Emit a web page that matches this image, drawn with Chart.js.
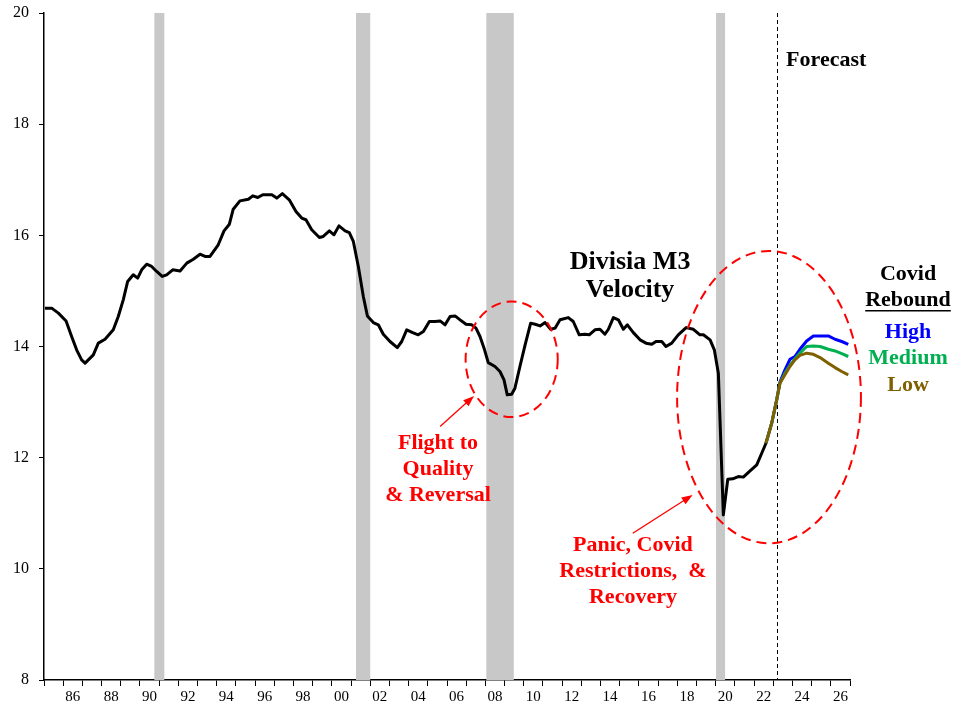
<!DOCTYPE html>
<html lang="en">
<head>
    <meta charset="UTF-8">
    <title>Divisia M3 Velocity</title>
    <script src="https://cdn.jsdelivr.net/npm/chart.js"></script>
    <style>
        body {
            margin: 0;
            background-color: #fff;
        }
        .chart-box {
            width: 955px;
            height: 708px;
            position: relative;
        }
    </style>
</head>
<body>
    <div class="chart-box">
        <canvas id="velocityChart"></canvas>
    </div>

    <script>
        // historical velocity (decimal years / values)
        const histYears = [
            1985.05, 1985.40, 1985.75, 1986.15, 1986.44, 1986.70, 1986.96, 1987.14, 1987.57, 1987.83,
            1988.18, 1988.61, 1988.87, 1989.13, 1989.36, 1989.65, 1989.88, 1990.09, 1990.35, 1990.61,
            1990.87, 1991.16, 1991.39, 1991.71, 1992.09, 1992.44, 1992.78, 1993.13, 1993.39, 1993.65,
            1994.08, 1994.38, 1994.66, 1994.86, 1995.21, 1995.65, 1995.88, 1996.14, 1996.40, 1996.87,
            1997.13, 1997.42, 1997.78, 1998.13, 1998.43, 1998.65, 1998.95, 1999.35, 1999.55, 1999.87,
            2000.11, 2000.37, 2000.69, 2000.91, 2001.12, 2001.38, 2001.64, 2001.85, 2002.16, 2002.42,
            2002.68, 2003.03, 2003.41, 2003.64, 2003.90, 2004.21, 2004.50, 2004.77, 2005.08, 2005.38,
            2005.64, 2005.90, 2006.16, 2006.42, 2006.68, 2006.99, 2007.29, 2007.51, 2007.72, 2007.93,
            2008.15, 2008.50, 2008.76, 2008.97, 2009.14, 2009.37, 2009.54, 2009.80, 2010.07, 2010.36,
            2010.59, 2010.85, 2011.11, 2011.40, 2011.63, 2011.89, 2012.32, 2012.58, 2012.89, 2013.19,
            2013.41, 2013.71, 2013.97, 2014.23, 2014.41, 2014.67, 2014.93, 2015.19, 2015.40, 2015.71,
            2016.06, 2016.37, 2016.67, 2016.89, 2017.19, 2017.41, 2017.71, 2018.05, 2018.46, 2018.84,
            2019.18, 2019.36, 2019.71, 2019.93, 2020.14, 2020.40, 2020.63, 2020.89, 2021.18, 2021.44,
            2021.75, 2022.14, 2022.40, 2022.62
        ];
        const histValues = [
            14.69, 14.69, 14.60, 14.46, 14.18, 13.94, 13.76, 13.70, 13.85, 14.06,
            14.13, 14.30, 14.54, 14.84, 15.17, 15.29, 15.23, 15.38, 15.48, 15.44,
            15.35, 15.26, 15.29, 15.38, 15.36, 15.50, 15.57, 15.66, 15.62, 15.62,
            15.83, 16.08, 16.20, 16.47, 16.62, 16.65, 16.71, 16.68, 16.73, 16.73,
            16.67, 16.75, 16.64, 16.43, 16.31, 16.28, 16.10, 15.96, 15.98, 16.08,
            16.01, 16.17, 16.08, 16.05, 15.89, 15.44, 14.90, 14.55, 14.43, 14.39,
            14.22, 14.09, 13.98, 14.09, 14.30, 14.25, 14.21, 14.27, 14.45, 14.45,
            14.46, 14.39, 14.54, 14.55, 14.48, 14.40, 14.39, 14.33, 14.18, 13.97,
            13.71, 13.64, 13.55, 13.40, 13.13, 13.14, 13.25, 13.64, 14.03, 14.42,
            14.40, 14.37, 14.43, 14.31, 14.33, 14.48, 14.52, 14.45, 14.21, 14.22,
            14.21, 14.30, 14.31, 14.22, 14.31, 14.52, 14.48, 14.31, 14.39, 14.25,
            14.12, 14.06, 14.04, 14.09, 14.09, 14.00, 14.06, 14.21, 14.34, 14.31,
            14.21, 14.21, 14.12, 13.94, 13.52, 10.97, 11.61, 11.62, 11.66, 11.65,
            11.75, 11.87, 12.08, 12.26
        ];

        // forecast scenarios
        const fcYears = [2022.62, 2022.92, 2023.18, 2023.35, 2023.61, 2023.87, 2024.13, 2024.39,
                         2024.74, 2025.09, 2025.44, 2025.87, 2026.22, 2026.57, 2026.91];
        const highValues = [12.26, 12.62, 13.04, 13.36, 13.58, 13.77, 13.82, 13.95,
                            14.10, 14.19, 14.19, 14.19, 14.13, 14.09, 14.04];
        const mediumValues = [12.26, 12.62, 13.04, 13.34, 13.52, 13.66, 13.78, 13.88,
                              14.00, 14.01, 14.00, 13.95, 13.92, 13.87, 13.82];
        const lowValues = [12.26, 12.62, 13.04, 13.34, 13.49, 13.64, 13.76, 13.84,
                           13.88, 13.86, 13.80, 13.70, 13.62, 13.55, 13.49];

        // recessions (start, end in decimal years)
        const recessions = [[1990.75, 1991.27], [2001.26, 2002.0], [2008.05, 2009.48], [2020.02, 2020.49]];
        const forecastStart = 2023.18;

        const xMin = 1985, xMax = 2027;
        const yTicks = [8, 10, 12, 14, 16, 18, 20];

        const toPoints = (xs, ys) => xs.map((x, i) => ({ x: x, y: ys[i] }));
        const serif = '"Liberation Serif", "Times New Roman", serif';

        // shading + forecast line behind, annotations on top
        const decorations = {
            id: 'decorations',
            beforeDatasetsDraw(chart) {
                const { ctx, chartArea, scales: { x } } = chart;
                ctx.save();
                ctx.fillStyle = '#c8c8c8';
                recessions.forEach(([a, b]) => {
                    const x1 = x.getPixelForValue(a), x2 = x.getPixelForValue(b);
                    ctx.fillRect(x1, chartArea.top, x2 - x1, chartArea.bottom - chartArea.top);
                });
                const fx = Math.round(x.getPixelForValue(forecastStart)) + 0.5;
                ctx.strokeStyle = '#000';
                ctx.lineWidth = 1;
                ctx.setLineDash([4, 3]);
                ctx.beginPath();
                ctx.moveTo(fx, chartArea.top);
                ctx.lineTo(fx, chartArea.bottom);
                ctx.stroke();
                ctx.restore();
            },
            afterDatasetsDraw(chart) {
                const { ctx, scales: { x, y } } = chart;
                const px = v => x.getPixelForValue(v);
                const py = v => y.getPixelForValue(v);

                ctx.save();
                // dashed ellipses
                ctx.strokeStyle = '#ff0000';
                ctx.lineWidth = 2;
                ctx.setLineDash([10, 6]);
                [[2009.37, 13.77, 2.4, 1.04], [2022.78, 13.09, 4.79, 2.63]].forEach(([cx, cy, rx, ry]) => {
                    ctx.beginPath();
                    ctx.ellipse(px(cx), py(cy), px(cx + rx) - px(cx), py(cy - ry) - py(cy), 0, 0, Math.PI * 2);
                    ctx.stroke();
                });
                ctx.setLineDash([]);

                // arrows
                const arrow = (x1, y1, x2, y2) => {
                    const ax = px(x1), ay = py(y1), bx = px(x2), by = py(y2);
                    const ang = Math.atan2(by - ay, bx - ax);
                    ctx.lineWidth = 1.3;
                    ctx.beginPath();
                    ctx.moveTo(ax, ay);
                    ctx.lineTo(bx - 8 * Math.cos(ang), by - 8 * Math.sin(ang));
                    ctx.stroke();
                    ctx.beginPath();
                    ctx.moveTo(bx, by);
                    ctx.lineTo(bx - 11 * Math.cos(ang) + 4 * Math.sin(ang), by - 11 * Math.sin(ang) - 4 * Math.cos(ang));
                    ctx.lineTo(bx - 11 * Math.cos(ang) - 4 * Math.sin(ang), by - 11 * Math.sin(ang) + 4 * Math.cos(ang));
                    ctx.closePath();
                    ctx.fill();
                };
                ctx.fillStyle = '#ff0000';
                arrow(2005.64, 12.56, 2007.41, 13.11);
                arrow(2015.68, 10.64, 2018.80, 11.33);

                // text blocks
                const lines = (xv, yv, arr, color, size, gap) => {
                    ctx.fillStyle = color;
                    ctx.font = 'bold ' + size + 'px ' + serif;
                    ctx.textAlign = 'center';
                    ctx.textBaseline = 'middle';
                    arr.forEach((t, i) => ctx.fillText(t, px(xv), py(yv) + i * gap));
                };
                lines(2005.53, 12.26, ['Flight to', 'Quality', '& Reversal'], '#ff0000', 22, 26);
                lines(2015.69, 10.43, ['Panic, Covid', 'Restrictions,  &', 'Recovery'], '#ff0000', 22, 26);
                lines(2015.54, 15.52, ['Divisia M3', 'Velocity'], '#000', 26, 28);

                ctx.font = 'bold 22px ' + serif;
                ctx.textAlign = 'left';
                ctx.fillStyle = '#000';
                ctx.fillText('Forecast', px(2023.67), py(19.15));

                // scenario key
                const kx = px(xMin) + 864;
                const ky = py(20) + 261;
                ctx.textAlign = 'center';
                ctx.textBaseline = 'middle';
                ctx.fillStyle = '#000';
                ctx.fillText('Covid', kx, ky);
                ctx.fillText('Rebound', kx, ky + 26);
                const w = ctx.measureText('Rebound').width;
                ctx.fillRect(kx - w / 2, ky + 26 + 10, w, 1.5);
                ctx.fillStyle = '#0000ff';
                ctx.fillText('High', kx, ky + 58);
                ctx.fillStyle = '#00b050';
                ctx.fillText('Medium', kx, ky + 84);
                ctx.fillStyle = '#7f6000';
                ctx.fillText('Low', kx, ky + 111);
                ctx.restore();
            }
        };

        const lineStyle = {
            borderWidth: 3,
            pointRadius: 0,
            tension: 0,
            borderJoinStyle: 'round',
            fill: false
        };

        const config = {
            type: 'line',
            data: {
                datasets: [
                    Object.assign({ label: 'Divisia M3 Velocity', data: toPoints(histYears, histValues), borderColor: '#000', order: 0 }, lineStyle),
                    Object.assign({ label: 'Low', data: toPoints(fcYears, lowValues), borderColor: '#7f6000', order: 1 }, lineStyle),
                    Object.assign({ label: 'Medium', data: toPoints(fcYears, mediumValues), borderColor: '#00b050', order: 2 }, lineStyle),
                    Object.assign({ label: 'High', data: toPoints(fcYears, highValues), borderColor: '#0000ff', order: 3 }, lineStyle)
                ]
            },
            options: {
                responsive: true,
                maintainAspectRatio: false,
                animation: false,
                layout: { padding: { top: 13, right: 105, bottom: 0, left: 0 } },
                plugins: {
                    legend: { display: false },
                    tooltip: { enabled: false }
                },
                scales: {
                    x: {
                        type: 'linear',
                        min: xMin,
                        max: xMax,
                        afterBuildTicks: (axis) => {
                            const t = [];
                            for (let yr = xMin; yr <= xMax; yr++) t.push({ value: yr });
                            for (let yr = 1986; yr <= 2026; yr += 2) t.push({ value: yr + 0.5 });
                            t.sort((a, b) => a.value - b.value);
                            axis.ticks = t;
                        },
                        afterFit: (s) => { s.height = 28; },
                        border: { color: '#000', width: 1.5 },
                        grid: {
                            drawOnChartArea: false,
                            tickLength: 6,
                            tickColor: (c) => (c.tick && c.tick.value % 1 ? 'rgba(0,0,0,0)' : '#000')
                        },
                        ticks: {
                            autoSkip: false,
                            maxRotation: 0,
                            minRotation: 0,
                            padding: 2,
                            color: '#000',
                            font: { family: serif, size: 15 },
                            callback: (v) => (v % 1 ? String(Math.floor(v) % 100).padStart(2, '0') : '')
                        }
                    },
                    y: {
                        min: 8,
                        max: 20,
                        afterBuildTicks: (axis) => { axis.ticks = yTicks.map(v => ({ value: v })); },
                        afterFit: (s) => {
                            s.width = 44;
                            s.paddingTop = 0;
                            s.paddingBottom = 0;
                        },
                        border: { color: '#000', width: 1.5 },
                        grid: {
                            drawOnChartArea: false,
                            tickLength: 5,
                            tickColor: '#000'
                        },
                        ticks: {
                            padding: 10,
                            color: '#000',
                            font: { family: serif, size: 16 }
                        }
                    }
                }
            },
            plugins: [decorations]
        };

        window.onload = function() {
            const ctx = document.getElementById('velocityChart').getContext('2d');
            new Chart(ctx, config);
        };
    </script>
</body>
</html>
